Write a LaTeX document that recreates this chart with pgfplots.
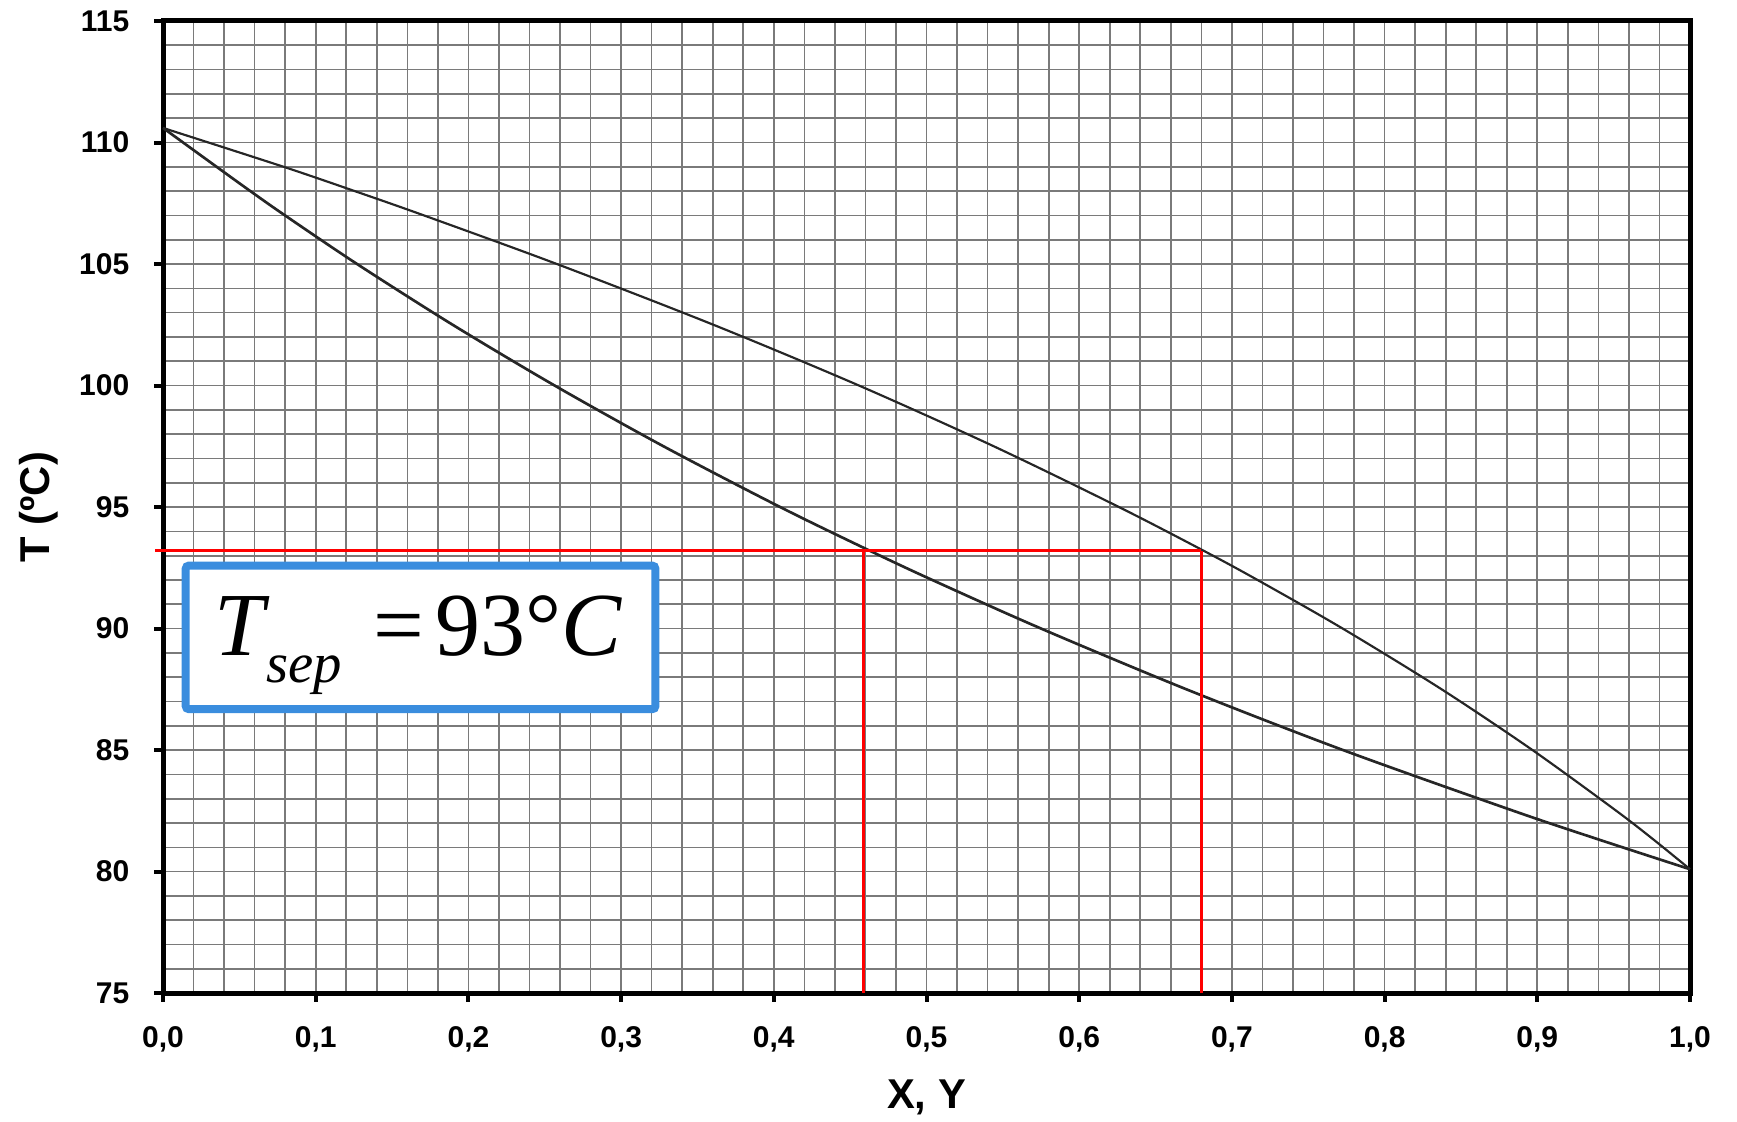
\documentclass[border=0pt]{standalone}
\usepackage{fontspec}
\setmainfont{Liberation Sans}
\newfontfamily\timesfont{Liberation Serif}
\usepackage{pgfplots}
\usepackage{pgfplotstable}
\pgfplotsset{compat=1.18}
\definecolor{boxblue}{HTML}{3A8DDE}

% bubble line: T vs x (liquid)
\pgfplotstableread{
x      T
0.0000 110.6
0.0351 109.0
0.0572 108.0
0.0799 107.0
0.1271 105.0
0.1897 102.5
0.2565 100.0
0.3278 97.5
0.4042 95.0
0.4630 93.2
0.5038 92.0
0.5751 90.0
0.6703 87.5
0.7729 85.0
0.8845 82.5
0.9413 81.3
1.0000 80.1
}\bubble
% dew line: T vs y (vapour)
\pgfplotstableread{
y      T
0.0000 110.6
0.0790 109.0
0.1256 108.0
0.1709 107.0
0.2580 105.0
0.3605 102.5
0.4558 100.0
0.5441 97.5
0.6261 95.0
0.6816 93.2
0.7168 92.0
0.7726 90.0
0.8374 87.5
0.8969 85.0
0.9518 82.5
0.9765 81.3
1.0000 80.1
}\dew

\begin{document}
\begin{tikzpicture}
\path[use as bounding box] (-48.9pt,-38.4pt) rectangle (472.1pt,297.9pt);
\begin{axis}[
    scale only axis,
    width=458pt, height=291.6pt,
    at={(0,0)}, anchor=south west,
    xmin=0, xmax=1, ymin=75, ymax=115,
    xtick={0,0.1,...,1.01}, ytick={75,80,...,115},
    minor x tick num=4, minor y tick num=4,
    grid=both,
    major grid style={black!52, line width=0.5pt},
    minor grid style={black!52, line width=0.5pt},
    axis line style={line width=1.5pt},
    tick align=outside,
    xtick pos=left, ytick pos=left,
    major tick length=2.6pt, minor tick length=0pt,
    tick style={line width=1.2pt, black},
    /pgf/number format/assume math mode=true,
    x tick label style={/pgf/number format/fixed, /pgf/number format/fixed zerofill,
        /pgf/number format/precision=1, /pgf/number format/use comma,
        anchor=north, yshift=-4pt},
    ticklabel style={font=\bfseries\fontsize{9}{10}\selectfont},
    yticklabel style={anchor=east, xshift=-4pt},
    xlabel={X, Y},
    ylabel={T (ºC)},
    label style={font=\bfseries\fontsize{12.5}{14}\selectfont},
    xlabel style={at={(axis description cs:0.5,-0.107)}, anchor=center},
    ylabel style={at={(axis description cs:-0.0812,0.5)}, anchor=center},
    clip=false,
]
\addplot[black!85, line width=0.8pt, smooth] table[x=x, y=T] {\bubble};
\addplot[black!85, line width=0.65pt, smooth] table[x=y, y=T] {\dew};

\addplot[red, line width=0.9pt] coordinates {(-0.005,93.2) (0.68,93.2)};
\addplot[red, line width=0.9pt] coordinates {(0.459,75) (0.459,93.2)};
\addplot[red, line width=0.9pt] coordinates {(0.68,75) (0.68,93.2)};

\node[draw=boxblue, line width=2.4pt, fill=white, rounded corners=1pt,
      minimum width=140.9pt, minimum height=43.1pt, anchor=north west,
      xshift=-1pt, yshift=0.8pt] at (axis cs:0.0144,92.65) {};
\node[anchor=base west, inner sep=0pt, font=\timesfont\fontsize{27}{30}\selectfont]
    at (axis cs:0.0335,88.91)
    {\textit{T}\kern-0.04em\raisebox{-0.3em}{\fontsize{17}{18}\selectfont\textit{sep}}\hspace{0.35em}=\hspace{0.12em}93°\textit{C}};
\end{axis}
\end{tikzpicture}
\end{document}
